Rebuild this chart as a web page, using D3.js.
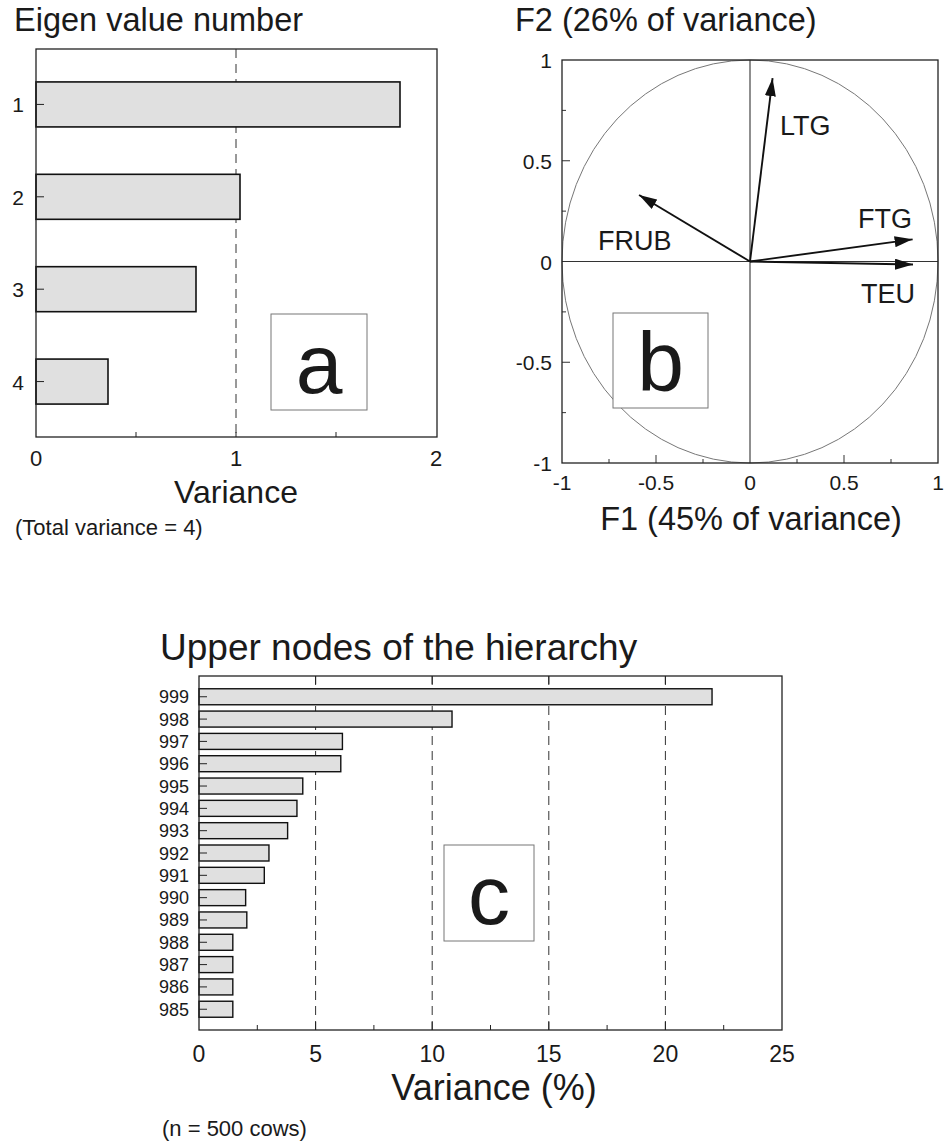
<!DOCTYPE html>
<html>
<head>
<title>Eigen values, correlation circle and hierarchy nodes</title>
<script src="https://d3js.org/d3.v7.min.js"></script>
<style>
  body {margin: 0; background: #fff;}
  text {font-family: "Liberation Sans", Arial, sans-serif; fill: #1a1a1a;}
</style>
</head>
<body>
<svg width="946" height="1146"></svg>
<script>
// panel a : eigen values
var eigenNumbers = ["1", "2", "3", "4"];
var eigenValues = [1.82, 1.02, 0.80, 0.36];
var eigenTicks = [0, 1, 2];

// panel b : correlation circle
var varNames = ["LTG", "FRUB", "FTG", "TEU"];
var varF1 = [0.12, -0.59, 0.865, 0.867];
var varF2 = [0.91, 0.33, 0.11, -0.015];
var circleTicks = [-1, -0.5, 0, 0.5, 1];

// panel c : upper nodes of the hierarchy
var nodeNames = ["999", "998", "997", "996", "995", "994", "993", "992",
                 "991", "990", "989", "988", "987", "986", "985"];
var nodeVariance = [22.0, 10.85, 6.15, 6.08, 4.45, 4.2, 3.8, 3.0,
                    2.8, 2.0, 2.05, 1.45, 1.45, 1.45, 1.45];
var nodeTicks = [0, 5, 10, 15, 20, 25];

var svg = d3.select("svg");
var barFill = "#e0e0e0";

svg.append("defs").append("marker")
  .attr("id", "head")
  .attr("markerUnits", "userSpaceOnUse")
  .attr("viewBox", "0 0 18 11")
  .attr("refX", 18).attr("refY", 5.5)
  .attr("markerWidth", 18).attr("markerHeight", 11)
  .attr("orient", "auto")
  .append("path").attr("d", "M0,0 L18,5.5 L0,11 Z").attr("fill", "#111");

function frame(g, x0, y0, x1, y1) {
  g.append("rect").attr("x", x0).attr("y", y0)
    .attr("width", x1 - x0).attr("height", y1 - y0)
    .attr("fill", "none").attr("stroke", "#222").attr("stroke-width", 1.3);
}

function letterBox(g, x0, y0, w, h, letter) {
  g.append("rect").attr("x", x0).attr("y", y0).attr("width", w).attr("height", h)
    .attr("fill", "#fff").attr("stroke", "#777").attr("stroke-width", 1);
  g.append("text").attr("x", x0 + w / 2).attr("y", y0 + h - 17)
    .attr("text-anchor", "middle").style("font-size", "84px").text(letter);
}

// ---------------- panel a
var ga = svg.append("g");
var xa = d3.scaleLinear().domain([0, 2]).range([36, 436]);
var ya = d3.scalePoint().domain(eigenNumbers).range([49, 437]).padding(0.6);

ga.append("text").attr("x", 14).attr("y", 31).style("font-size", "32.5px").text("Eigen value number");

ga.append("line").attr("x1", xa(1)).attr("x2", xa(1)).attr("y1", 49).attr("y2", 437)
  .attr("stroke", "#333").attr("stroke-dasharray", "9,6");

ga.selectAll(".bar").data(eigenValues).enter().append("rect")
  .attr("x", xa(0)).attr("y", (d, i) => ya(eigenNumbers[i]) - 22.5)
  .attr("width", d => xa(d) - xa(0)).attr("height", 45)
  .attr("fill", barFill).attr("stroke", "#111").attr("stroke-width", 1.6);

ga.selectAll(".yt").data(eigenNumbers).enter().append("line")
  .attr("x1", 36).attr("x2", 44).attr("y1", d => ya(d)).attr("y2", d => ya(d))
  .attr("stroke", "#222");
ga.selectAll(".yl").data(eigenNumbers).enter().append("text")
  .attr("x", 24).attr("y", d => ya(d) + 8).attr("text-anchor", "end")
  .style("font-size", "21px").text(d => d);

ga.selectAll(".xt").data([0.5, 1, 1.5]).enter().append("line")
  .attr("x1", d => xa(d)).attr("x2", d => xa(d)).attr("y1", 437).attr("y2", 432)
  .attr("stroke", "#222");
ga.selectAll(".xl").data(eigenTicks).enter().append("text")
  .attr("x", d => xa(d)).attr("y", 466).attr("text-anchor", "middle")
  .style("font-size", "22px").text(d => d);

frame(ga, 36, 49, 437, 437);
letterBox(ga, 271, 314, 96, 96, "a");

ga.append("text").attr("x", xa(1)).attr("y", 503).attr("text-anchor", "middle")
  .style("font-size", "32px").text("Variance");
ga.append("text").attr("x", 15).attr("y", 535).style("font-size", "22px").text("(Total variance = 4)");

// ---------------- panel b
var gb = svg.append("g");
var xb = d3.scaleLinear().domain([-1, 1]).range([562, 938]);
var yb = d3.scaleLinear().domain([-1, 1]).range([463, 60]);

gb.append("text").attr("x", 515).attr("y", 31).style("font-size", "32.5px").text("F2 (26% of variance)");

gb.append("ellipse").attr("cx", xb(0)).attr("cy", yb(0))
  .attr("rx", xb(1) - xb(0)).attr("ry", yb(0) - yb(1))
  .attr("fill", "none").attr("stroke", "#777").attr("stroke-width", 1);

gb.append("line").attr("x1", xb(-1)).attr("x2", xb(1)).attr("y1", yb(0)).attr("y2", yb(0))
  .attr("stroke", "#333").attr("stroke-width", 1.1);
gb.append("line").attr("x1", xb(0)).attr("x2", xb(0)).attr("y1", yb(-1)).attr("y2", yb(1))
  .attr("stroke", "#333").attr("stroke-width", 1.1);

var minor = [-0.75, -0.25, 0.25, 0.75];
gb.selectAll(".bxt").data([-0.5, 0.5]).enter().append("line")
  .attr("x1", d => xb(d)).attr("x2", d => xb(d)).attr("y1", 463).attr("y2", 455).attr("stroke", "#333");
gb.selectAll(".bxm").data(minor).enter().append("line")
  .attr("x1", d => xb(d)).attr("x2", d => xb(d)).attr("y1", 463).attr("y2", 459).attr("stroke", "#333");
gb.selectAll(".byt").data([-0.5, 0.5]).enter().append("line")
  .attr("y1", d => yb(d)).attr("y2", d => yb(d)).attr("x1", 562).attr("x2", 570).attr("stroke", "#333");
gb.selectAll(".bym").data(minor).enter().append("line")
  .attr("y1", d => yb(d)).attr("y2", d => yb(d)).attr("x1", 562).attr("x2", 566).attr("stroke", "#333");

gb.selectAll(".arrow").data(varNames).enter().append("line")
  .attr("x1", xb(0)).attr("y1", yb(0))
  .attr("x2", (d, i) => xb(varF1[i])).attr("y2", (d, i) => yb(varF2[i]))
  .attr("stroke", "#111").attr("stroke-width", 1.9).attr("marker-end", "url(#head)");

var labelPos = {LTG: [780, 135], FRUB: [598, 250], FTG: [858, 228], TEU: [861, 303]};
gb.selectAll(".vl").data(varNames).enter().append("text")
  .attr("x", d => labelPos[d][0]).attr("y", d => labelPos[d][1])
  .style("font-size", "27px").text(d => d);

gb.selectAll(".byl").data(circleTicks).enter().append("text")
  .attr("x", 552).attr("y", d => yb(d) + 8).attr("text-anchor", "end")
  .style("font-size", "21px").text(d => d);
gb.selectAll(".bxl").data(circleTicks).enter().append("text")
  .attr("x", d => xb(d)).attr("y", 490).attr("text-anchor", "middle")
  .style("font-size", "21px").text(d => d);

frame(gb, 562, 60, 938, 463);
letterBox(gb, 613, 313, 95, 95, "b");

gb.append("text").attr("x", 751).attr("y", 530).attr("text-anchor", "middle")
  .style("font-size", "32.5px").text("F1 (45% of variance)");

// ---------------- panel c
var gc = svg.append("g");
var xc = d3.scaleLinear().domain([0, 25]).range([199, 782]);
var yc = d3.scalePoint().domain(nodeNames).range([676, 1030]).padding(0.93);

gc.append("text").attr("x", 160).attr("y", 660).style("font-size", "37px").text("Upper nodes of the hierarchy");

gc.selectAll(".grid").data([5, 10, 15, 20]).enter().append("line")
  .attr("x1", d => xc(d)).attr("x2", d => xc(d)).attr("y1", 676).attr("y2", 1030)
  .attr("stroke", "#333").attr("stroke-dasharray", "9,6");

gc.selectAll(".bar").data(nodeVariance).enter().append("rect")
  .attr("x", xc(0)).attr("y", (d, i) => yc(nodeNames[i]) - 8)
  .attr("width", d => xc(d) - xc(0)).attr("height", 16)
  .attr("fill", barFill).attr("stroke", "#111").attr("stroke-width", 1.4);

gc.selectAll(".yt").data(nodeNames).enter().append("line")
  .attr("x1", 199).attr("x2", 207).attr("y1", d => yc(d)).attr("y2", d => yc(d))
  .attr("stroke", "#222");
gc.selectAll(".yl").data(nodeNames).enter().append("text")
  .attr("x", 189).attr("y", d => yc(d) + 6.5).attr("text-anchor", "end")
  .style("font-size", "18px").text(d => d);

var cMinor = [2.5, 7.5, 12.5, 17.5, 22.5];
gc.selectAll(".xt").data(nodeTicks.slice(1, 5)).enter().append("line")
  .attr("x1", d => xc(d)).attr("x2", d => xc(d)).attr("y1", 1030).attr("y2", 1022).attr("stroke", "#222");
gc.selectAll(".xm").data(cMinor).enter().append("line")
  .attr("x1", d => xc(d)).attr("x2", d => xc(d)).attr("y1", 1030).attr("y2", 1025).attr("stroke", "#222");
gc.selectAll(".xtt").data(nodeTicks.slice(1, 5)).enter().append("line")
  .attr("x1", d => xc(d)).attr("x2", d => xc(d)).attr("y1", 676).attr("y2", 684).attr("stroke", "#222");
gc.selectAll(".xl").data(nodeTicks).enter().append("text")
  .attr("x", d => xc(d)).attr("y", 1062).attr("text-anchor", "middle")
  .style("font-size", "23px").text(d => d);

frame(gc, 199, 676, 782, 1030);
letterBox(gc, 444, 845, 90, 96, "c");

gc.append("text").attr("x", 494).attr("y", 1100).attr("text-anchor", "middle")
  .style("font-size", "36px").text("Variance (%)");
gc.append("text").attr("x", 162).attr("y", 1136).style("font-size", "22px").text("(n = 500 cows)");
</script>
</body>
</html>
